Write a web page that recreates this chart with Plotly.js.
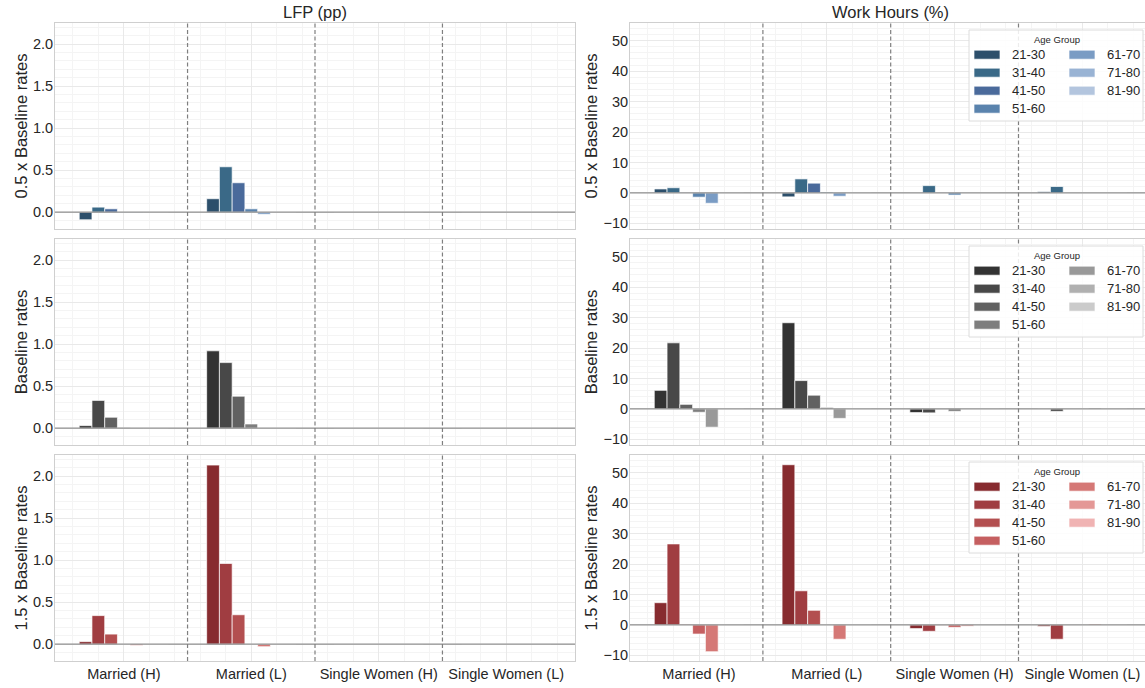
<!DOCTYPE html>
<html>
<head>
<meta charset="utf-8">
<script src="https://cdn.plot.ly/plotly-3.0.1.min.js"></script>
<style>
  html, body { margin: 0; padding: 0; background: #ffffff; }
  #chart { width: 1145px; height: 688px; }
</style>
</head>
<body>
<div id="chart"></div>
<script>
// Categories on the x axis and the age groups drawn as grouped bars
const categories = ['Married (H)', 'Married (L)', 'Single Women (H)', 'Single Women (L)'];
const ageGroups = ['21-30', '31-40', '41-50', '51-60', '61-70', '71-80', '81-90'];
const rowLabels = ['0.5 x Baseline rates', 'Baseline rates', '1.5 x Baseline rates'];
const columnTitles = ['LFP (pp)', 'Work Hours (%)'];

// LFP change (pp): one row per age group, one column per category
const lfpHalf = [
  [-0.09, 0.16, 0, 0],
  [0.06, 0.54, 0, 0],
  [0.04, 0.35, 0, 0],
  [-0.005, 0.04, 0, 0],
  [-0.005, -0.025, 0, 0],
  [0, 0, 0, 0],
  [0, 0, 0, 0]
];
const lfpBase = [
  [0.03, 0.92, 0, 0],
  [0.33, 0.78, 0, 0],
  [0.13, 0.38, 0, 0],
  [0.005, 0.05, 0, 0],
  [-0.005, -0.005, 0, 0],
  [0, 0, 0, 0],
  [0, 0, 0, 0]
];
const lfpOneHalf = [
  [0.03, 2.13, 0, 0],
  [0.34, 0.96, 0, 0],
  [0.12, 0.35, 0, 0],
  [0, 0, 0, 0],
  [-0.015, -0.03, 0, 0],
  [0, 0, 0, 0],
  [0, 0, 0, 0]
];

// Work hours change (%)
const hoursHalf = [
  [1.3, -1.3, 0, 0.4],
  [1.7, 4.6, 2.4, 2.1],
  [0.1, 3.2, 0.1, 0],
  [-1.4, 0.3, -0.7, 0],
  [-3.4, -1.1, 0, 0],
  [0, 0, 0, 0],
  [0, 0, 0, 0]
];
const hoursBase = [
  [6.1, 28.3, -1.2, 0],
  [21.7, 9.3, -1.3, -0.8],
  [1.5, 4.5, -0.1, 0],
  [-1.1, 0.5, -0.8, 0],
  [-6.0, -3.1, 0, 0.3],
  [0, 0, 0, 0],
  [0, 0, 0, 0]
];
const hoursOneHalf = [
  [7.3, 52.6, -1.2, -0.5],
  [26.6, 11.2, -2.1, -4.7],
  [0.2, 4.8, -0.1, 0],
  [-3.0, 0, -0.8, 0],
  [-8.8, -4.7, -0.4, 0.3],
  [0, 0, 0, 0],
  [0, 0, 0, 0]
];

// Palettes, one per scenario row
const blues = ['#2c4f6b', '#3a6987', '#4a6a9b', '#5a83ad', '#7a9cc4', '#99b3d4', '#b3c5de'];
const grays = ['#333333', '#484848', '#616161', '#7e7e7e', '#999999', '#b0b0b0', '#cbcbcb'];
const reds  = ['#872b2f', '#a03d41', '#b34f50', '#c55f60', '#d57876', '#e49896', '#f0b3b3'];

const rows = [
  { lfp: lfpHalf, hours: hoursHalf, colors: blues },
  { lfp: lfpBase, hours: hoursBase, colors: grays },
  { lfp: lfpOneHalf, hours: hoursOneHalf, colors: reds }
];

// Page geometry (pixels)
const W = 1145, H = 688;
const M = { l: 55, r: 0, t: 23, b: 27 };
const PW = W - M.l - M.r, PH = H - M.t - M.b;
const px2x = p => (p - M.l) / PW;
const px2y = p => (H - M.b - p) / PH;

const colDomains = [[px2x(55), px2x(575)], [px2x(630), 1]];
const rowTops = [23, 239, 455];
const rowBottoms = [229, 445, 661];
const xRanges = [[-0.54, 3.54], [-0.54, 3.49]];
const yRanges = [[-0.2, 2.25], [-11.85, 55.8]];

const FONT = 'Liberation Sans, Arial, Helvetica, sans-serif';
const TEXT = '#262626';

const traces = [];
const layout = {
  width: W, height: H,
  margin: M,
  paper_bgcolor: '#ffffff',
  plot_bgcolor: '#ffffff',
  font: { family: FONT, color: TEXT, size: 14.5 },
  barmode: 'group',
  bargap: 0.3,
  bargroupgap: 0,
  showlegend: false,
  shapes: [],
  annotations: []
};

const xIndex = categories.map((_, i) => i);

rows.forEach((row, r) => {
  [row.lfp, row.hours].forEach((data, c) => {
    const n = r * 2 + c + 1;
    const xa = n === 1 ? 'x' : 'x' + n;
    const ya = n === 1 ? 'y' : 'y' + n;

    ageGroups.forEach((age, k) => {
      traces.push({
        type: 'bar',
        name: age,
        x: xIndex,
        y: data[k],
        xaxis: xa,
        yaxis: ya,
        marker: { color: row.colors[k], line: { color: 'rgba(255,255,255,0.85)', width: 0.8 } },
        hovertemplate: age + ': %{y}<extra></extra>'
      });
    });

    layout[n === 1 ? 'xaxis' : 'xaxis' + n] = {
      domain: colDomains[c],
      anchor: ya,
      range: xRanges[c],
      tickmode: 'array',
      tickvals: xIndex,
      ticktext: categories,
      showticklabels: r === 2,
      ticks: '',
      tickfont: { size: 14.5, color: TEXT },
      showgrid: true,
      gridcolor: '#e9e9e9',
      gridwidth: 1,
      minor: { dtick: 0.2, tick0: 0, showgrid: true, gridcolor: '#f4f4f4', gridwidth: 1 },
      zeroline: false,
      showline: true,
      linecolor: '#cfcfcf',
      linewidth: 1,
      mirror: true,
      fixedrange: true
    };

    layout[n === 1 ? 'yaxis' : 'yaxis' + n] = {
      domain: [px2y(rowBottoms[r]), px2y(rowTops[r])],
      anchor: xa,
      range: yRanges[c],
      dtick: c === 0 ? 0.5 : 10,
      tick0: 0,
      tickformat: c === 0 ? '.1f' : 'd',
      ticks: '',
      ticklabelstandoff: -2,
      tickfont: { size: 14.5, color: TEXT },
      showgrid: true,
      gridcolor: '#e9e9e9',
      gridwidth: 1,
      minor: { dtick: c === 0 ? 0.1 : 2, tick0: 0, showgrid: true, gridcolor: '#f4f4f4', gridwidth: 1 },
      zeroline: false,
      showline: true,
      linecolor: '#cfcfcf',
      linewidth: 1,
      mirror: c === 0,
      title: { text: rowLabels[r], font: { size: 16.5, color: TEXT }, standoff: 1 },
      fixedrange: true
    };

    // Horizontal reference line at zero, drawn over the bars
    layout.shapes.push({
      type: 'line', xref: xa + ' domain', yref: ya,
      x0: 0, x1: 1, y0: 0, y1: 0,
      line: { color: '#8f8f8f', width: 1.3 },
      layer: 'above'
    });

    // Dashed separators between categories
    for (let s = 0; s < categories.length - 1; s++) {
      layout.shapes.push({
        type: 'line', xref: xa, yref: ya + ' domain',
        x0: s + 0.5, x1: s + 0.5, y0: 0, y1: 1,
        line: { color: '#7f7f7f', width: 1.2, dash: '4px,2.5px' },
        layer: 'above'
      });
    }
  });
});

// Column titles
columnTitles.forEach((t, c) => {
  const centre = c === 0 ? (55 + 575) / 2 : (630 + 1150) / 2;
  layout.annotations.push({
    text: t, xref: 'paper', yref: 'paper',
    x: px2x(centre), y: px2y(12),
    xanchor: 'center', yanchor: 'middle', showarrow: false,
    font: { size: 16.5, color: TEXT }
  });
});

// "Age Group" legend boxes in the work-hours panels (two columns, filled column-wise)
rows.forEach((row, r) => {
  const top = rowTops[r];
  layout.shapes.push({
    type: 'rect', xref: 'paper', yref: 'paper',
    x0: px2x(969), x1: px2x(1143), y0: px2y(top + 98), y1: px2y(top + 7),
    fillcolor: 'rgba(255,255,255,0.85)',
    line: { color: '#dcdcdc', width: 1 },
    layer: 'above'
  });
  layout.annotations.push({
    text: 'Age Group', xref: 'paper', yref: 'paper',
    x: px2x(1057), y: px2y(top + 16),
    xanchor: 'center', yanchor: 'middle', showarrow: false,
    font: { size: 9.5, color: TEXT }
  });
  ageGroups.forEach((age, k) => {
    const col = k < 4 ? 0 : 1;
    const rowIdx = k < 4 ? k : k - 4;
    const cy = top + 31.7 + 18 * rowIdx;
    const sx = col === 0 ? 974 : 1069;
    layout.shapes.push({
      type: 'rect', xref: 'paper', yref: 'paper',
      x0: px2x(sx), x1: px2x(sx + 26), y0: px2y(cy + 4.5), y1: px2y(cy - 4.5),
      fillcolor: row.colors[k],
      line: { color: 'rgba(255,255,255,0.85)', width: 0.8 },
      layer: 'above'
    });
    layout.annotations.push({
      text: age, xref: 'paper', yref: 'paper',
      x: px2x(col === 0 ? 1010 : 1105), y: px2y(cy),
      xanchor: 'left', yanchor: 'middle', showarrow: false,
      font: { size: 13, color: TEXT }
    });
  });
});

Plotly.newPlot('chart', traces, layout, { displayModeBar: false, staticPlot: true });
</script>
</body>
</html>
